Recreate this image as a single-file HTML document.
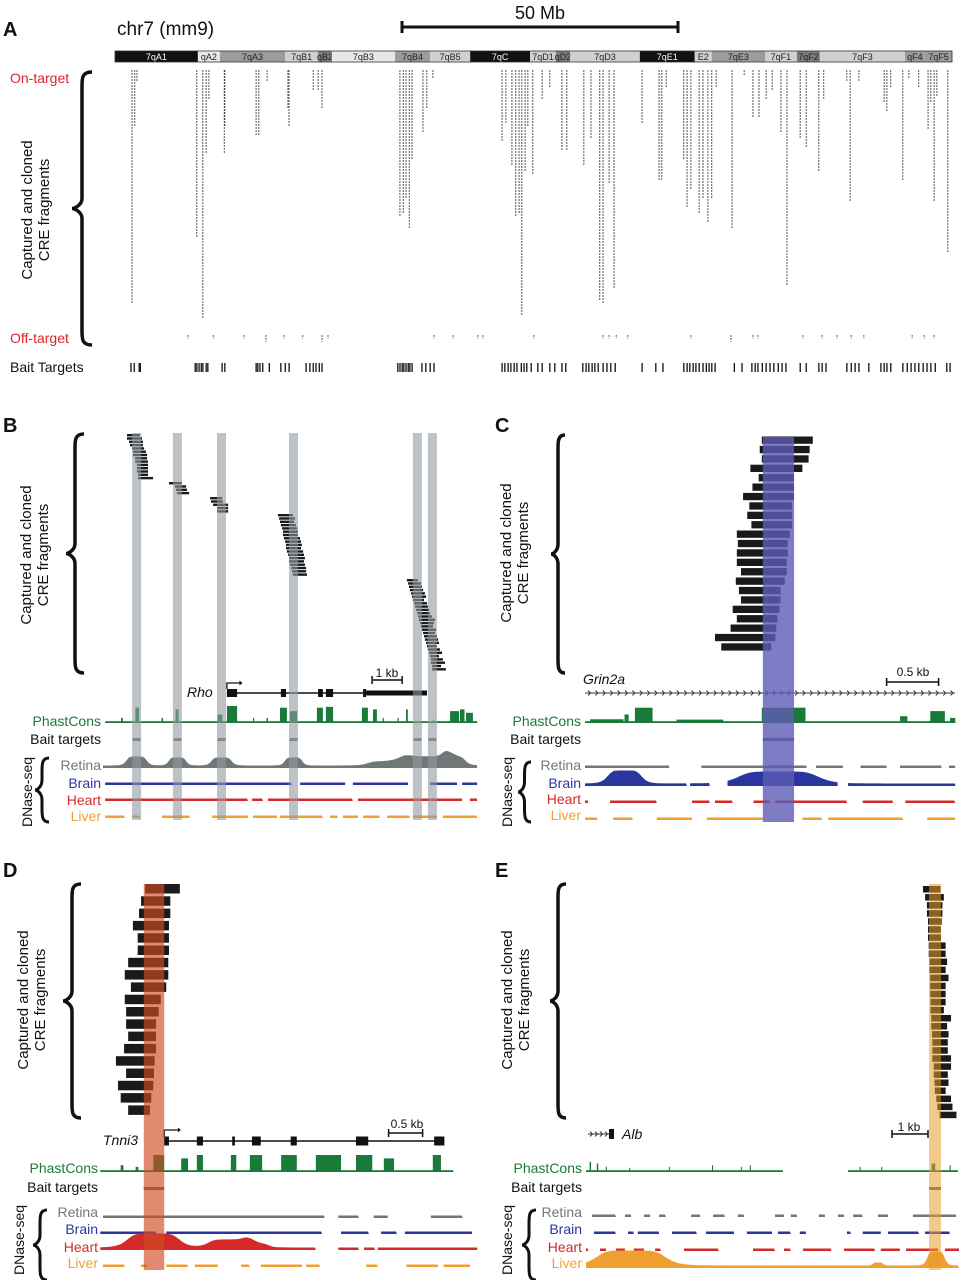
<!DOCTYPE html>
<html><head><meta charset="utf-8">
<style>
html,body{margin:0;padding:0;background:#fff;}
svg{display:block;font-family:"Liberation Sans",sans-serif;}
</style></head>
<body>
<svg id="fig" xmlns="http://www.w3.org/2000/svg" width="979" height="1280" viewBox="0 0 979 1280">
<rect x="0" y="0" width="979" height="1280" fill="#fff"/>
<g id="marks"></g>
<g id="overlays"></g>
<g id="labels" fill="#111">
  <text x="3" y="36" font-size="20" font-weight="bold">A</text>
  <text x="117" y="35" font-size="19">chr7 (mm9)</text>
  <text x="540" y="19" font-size="18" text-anchor="middle">50 Mb</text>
  <text x="10" y="83" font-size="14" fill="#d9262b">On-target</text>
  <text x="10" y="343" font-size="14" fill="#d9262b">Off-target</text>
  <text x="10" y="372" font-size="14">Bait Targets</text>
  <text transform="translate(32,210) rotate(-90)" font-size="15" text-anchor="middle">Captured and cloned</text>
  <text transform="translate(49,210) rotate(-90)" font-size="15" text-anchor="middle">CRE fragments</text>

  <text x="3" y="432" font-size="20" font-weight="bold">B</text>
  <text transform="translate(31,555) rotate(-90)" font-size="15" text-anchor="middle">Captured and cloned</text>
  <text transform="translate(48,555) rotate(-90)" font-size="15" text-anchor="middle">CRE fragments</text>
  <text x="187" y="697" font-size="14" font-style="italic">Rho</text>
  <text x="387" y="677" font-size="12" text-anchor="middle">1 kb</text>
  <text x="101" y="726" font-size="14" fill="#1a7a3a" text-anchor="end">PhastCons</text>
  <text x="101" y="744" font-size="14" text-anchor="end">Bait targets</text>
  <text x="101" y="770" font-size="14" fill="#707a7a" text-anchor="end">Retina</text>
  <text x="101" y="788" font-size="14" fill="#2a35a0" text-anchor="end">Brain</text>
  <text x="101" y="805" font-size="14" fill="#d42a2a" text-anchor="end">Heart</text>
  <text x="101" y="821" font-size="14" fill="#f0a030" text-anchor="end">Liver</text>
  <text transform="translate(32,792) rotate(-90)" font-size="14" text-anchor="middle">DNase-seq</text>

  <text x="495" y="432" font-size="20" font-weight="bold">C</text>
  <text transform="translate(511,553) rotate(-90)" font-size="15" text-anchor="middle">Captured and cloned</text>
  <text transform="translate(528,553) rotate(-90)" font-size="15" text-anchor="middle">CRE fragments</text>
  <text x="583" y="684" font-size="14" font-style="italic">Grin2a</text>
  <text x="913" y="676" font-size="12" text-anchor="middle">0.5 kb</text>
  <text x="581" y="726" font-size="14" fill="#1a7a3a" text-anchor="end">PhastCons</text>
  <text x="581" y="744" font-size="14" text-anchor="end">Bait targets</text>
  <text x="581" y="770" font-size="14" fill="#707a7a" text-anchor="end">Retina</text>
  <text x="581" y="788" font-size="14" fill="#2a35a0" text-anchor="end">Brain</text>
  <text x="581" y="804" font-size="14" fill="#d42a2a" text-anchor="end">Heart</text>
  <text x="581" y="820" font-size="14" fill="#f0a030" text-anchor="end">Liver</text>
  <text transform="translate(512,792) rotate(-90)" font-size="14" text-anchor="middle">DNase-seq</text>

  <text x="3" y="877" font-size="20" font-weight="bold">D</text>
  <text transform="translate(28,1000) rotate(-90)" font-size="15" text-anchor="middle">Captured and cloned</text>
  <text transform="translate(45,1000) rotate(-90)" font-size="15" text-anchor="middle">CRE fragments</text>
  <text x="103" y="1145" font-size="14" font-style="italic">Tnni3</text>
  <text x="407" y="1128" font-size="12" text-anchor="middle">0.5 kb</text>
  <text x="98" y="1173" font-size="14" fill="#1a7a3a" text-anchor="end">PhastCons</text>
  <text x="98" y="1192" font-size="14" text-anchor="end">Bait targets</text>
  <text x="98" y="1217" font-size="14" fill="#707a7a" text-anchor="end">Retina</text>
  <text x="98" y="1234" font-size="14" fill="#2a35a0" text-anchor="end">Brain</text>
  <text x="98" y="1252" font-size="14" fill="#d42a2a" text-anchor="end">Heart</text>
  <text x="98" y="1268" font-size="14" fill="#f0a030" text-anchor="end">Liver</text>
  <text transform="translate(24,1240) rotate(-90)" font-size="14" text-anchor="middle">DNase-seq</text>

  <text x="495" y="877" font-size="20" font-weight="bold">E</text>
  <text transform="translate(512,1000) rotate(-90)" font-size="15" text-anchor="middle">Captured and cloned</text>
  <text transform="translate(529,1000) rotate(-90)" font-size="15" text-anchor="middle">CRE fragments</text>
  <text x="622" y="1139" font-size="14" font-style="italic">Alb</text>
  <text x="909" y="1131" font-size="12" text-anchor="middle">1 kb</text>
  <text x="582" y="1173" font-size="14" fill="#1a7a3a" text-anchor="end">PhastCons</text>
  <text x="582" y="1192" font-size="14" text-anchor="end">Bait targets</text>
  <text x="582" y="1217" font-size="14" fill="#707a7a" text-anchor="end">Retina</text>
  <text x="582" y="1234" font-size="14" fill="#2a35a0" text-anchor="end">Brain</text>
  <text x="582" y="1252" font-size="14" fill="#d42a2a" text-anchor="end">Heart</text>
  <text x="582" y="1268" font-size="14" fill="#f0a030" text-anchor="end">Liver</text>
  <text transform="translate(512,1240) rotate(-90)" font-size="14" text-anchor="middle">DNase-seq</text>
</g>
</svg>
<script>
// ---------- Panel A data (Mb on chr7) ----------
const bandNames = ["7qA1","qA2","7qA3","7qB1","qB2","7qB3","7qB4","7qB5","7qC","7qD1","qD2","7qD3","7qE1","E2","7qE3","7qF1","7qF2","7qF3","qF4","7qF5"];
const bandStarts = [0,15.1,19.1,31.0,37.0,39.5,51.0,57.4,64.7,75.6,80.3,82.9,95.6,105.6,108.7,118.4,124.2,128.4,143.9,147.5];
const bandEnds = [15.1,19.1,31.0,37.0,39.5,51.0,57.4,64.7,75.6,80.3,82.9,95.6,105.6,108.7,118.4,124.2,128.4,143.9,147.5,152.5];
const bandStain = [4,0,2,1,3,0,2,1,4,1,3,1,4,1,2,1,3,1,2,2];
const onTargetPos = [3.1,3.6,4.0,14.9,16.0,16.6,17.1,19.9,20.0,25.7,26.2,27.7,31.5,31.7,36.1,37.0,37.7,51.9,52.5,53.0,53.6,54.1,56.1,56.8,57.9,70.5,71.2,72.3,73.0,73.6,74.1,74.7,75.2,76.1,77.8,79.2,81.4,82.3,85.4,86.7,88.3,88.9,90.0,90.9,96.0,99.1,99.6,100.4,103.6,104.2,104.9,106.4,107.1,108.0,108.7,109.5,112.4,114.6,116.2,117.3,118.6,119.7,121.3,122.4,124.8,125.9,128.2,129.1,133.3,133.9,135.5,140.1,140.6,141.3,143.5,144.6,146.4,148.1,148.6,149.2,149.7,151.7];
const onTargetCount = [78,19,4,56,83,28,10,28,19,22,22,4,13,19,7,7,13,49,48,43,53,30,21,13,3,24,18,32,49,48,82,34,19,35,10,6,27,27,32,23,77,78,38,73,18,37,37,6,30,46,40,48,43,51,43,6,53,2,16,16,10,7,21,72,23,26,34,10,4,44,4,11,14,6,37,3,6,20,11,44,9,61];
const offTargetPos = [13.3,17.9,23.5,27.5,30.8,34.2,37.7,38.8,58.1,61.6,66.1,67.0,76.3,88.9,90.0,91.3,93.4,104.9,112.2,116.2,117.1,125.3,128.8,131.5,134.1,136.4,145.2,147.4,149.2];
const offTargetCount = [1,1,1,2,1,1,2,1,1,1,1,1,1,1,1,1,1,1,2,1,1,1,1,1,1,1,1,1,1];
const baitPosA = [2.9,3.5,4.4,4.6,14.6,14.9,15.3,15.7,16.0,16.6,16.9,19.5,20.0,25.7,26.0,26.4,26.9,28.1,30.2,31.0,31.7,34.8,35.5,36.1,36.6,37.2,37.7,51.5,51.9,52.3,52.6,53.0,53.4,53.7,54.1,55.9,56.6,57.4,58.1,70.5,71.0,71.6,72.1,72.7,73.2,74.0,74.5,75.0,75.8,77.0,77.8,79.2,80.1,81.4,82.1,85.2,85.8,86.3,86.9,87.4,88.0,88.9,89.6,90.3,91.1,96.0,98.5,99.8,103.6,104.2,104.7,105.3,105.8,106.4,107.1,107.7,108.2,108.7,109.3,112.8,114.2,116.0,116.6,117.1,117.9,118.6,119.3,120.0,120.8,121.5,122.2,124.8,125.9,128.2,128.8,129.5,133.3,134.1,134.8,135.5,137.3,139.5,140.1,140.6,141.3,143.5,144.3,145.0,145.7,146.4,147.2,147.9,148.6,149.4,151.5,152.1];

// ---------- Panel B data (kb) ----------
const fragStartB = [0.80,0.80,0.87,0.90,0.97,1.0,1.0,1.07,1.07,1.13,1.13,1.13,1.17,1.17, 2.2,2.4,2.43,2.47, 3.57,3.6,3.67,3.8,3.8, 5.83,5.87,5.9,5.93,5.97,6.0,6.0,6.03,6.07,6.1,6.1,6.13,6.17,6.2,6.2,6.23,6.27,6.3,6.33, 10.13,10.17,10.2,10.23,10.27,10.3,10.33,10.37,10.4,10.43,10.47,10.5,10.53,10.57,10.6,10.63,10.67,10.7,10.73,10.77,10.8,10.83,10.87,10.9,10.93,10.93,10.97,10.97];
const fragEndB = [1.23,1.30,1.33,1.33,1.37,1.43,1.47,1.47,1.50,1.50,1.50,1.50,1.50,1.67, 2.63,2.77,2.8,2.87, 3.97,4.0,4.17,4.17,4.17, 6.33,6.4,6.37,6.43,6.47,6.5,6.5,6.57,6.6,6.63,6.6,6.67,6.7,6.73,6.7,6.73,6.77,6.77,6.8, 10.5,10.6,10.63,10.67,10.73,10.77,10.7,10.8,10.83,10.87,10.9,10.97,11.07,11.03,11.0,11.1,11.07,11.13,11.17,11.2,11.13,11.23,11.3,11.2,11.33,11.4,11.27,11.43];
const fragGroupB = [0,0,0,0,0,0,0,0,0,0,0,0,0,0, 1,1,1,1, 2,2,2,2,2, 3,3,3,3,3,3,3,3,3,3,3,3,3,3,3,3,3,3,3, 4,4,4,4,4,4,4,4,4,4,4,4,4,4,4,4,4,4,4,4,4,4,4,4,4,4,4,4];
const baitB = [1.12,2.48,3.95,6.35,10.48,10.98];
const phastStartB = [0.6,1.08,1.95,2.42,3.82,4.13,5.0,5.45,5.9,6.23,7.13,7.43,8.63,9.0,9.32,9.82,10.1,11.0,11.57,11.9,12.1];
const phastEndB = [0.66,1.2,2.0,2.52,3.98,4.47,5.04,5.5,6.13,6.47,7.33,7.67,8.83,9.13,9.36,9.86,10.16,11.04,11.87,12.05,12.33];
const phastHB = [0.3,0.9,0.3,0.8,0.5,1.0,0.3,0.3,0.9,0.7,0.9,0.95,0.9,0.8,0.3,0.3,0.8,0.2,0.7,0.8,0.6];
const retSegB = [[0,12.47]];
const retPeakC_B = [1.12,2.48,3.95,6.35,9.5,10.8,11.7];
const retPeakW_B = [0.35,0.3,0.35,0.3,0.7,0.9,0.4];
const retPeakH_B = [9,8,8,8,4,9,7];
const brainSegB = [[0.07,6.3],[6.57,8.07],[8.33,10.17],[10.9,11.8],[11.97,12.47]];
const heartSegB = [[0.07,4.83],[4.97,5.33],[5.5,8.33],[8.5,11.97],[12.23,12.47]];
const liverSegB = [[0.07,0.73],[0.97,1.23],[1.97,2.9],[3.63,4.83],[5.0,5.8],[5.9,7.33],[7.57,7.83],[8.0,8.5],[8.67,9.23],[9.47,10.23],[10.33,11.13],[11.33,12.47]];

// ---------- Panel C data (kb) ----------
const fragStartC = [1.70,1.68,1.70,1.59,1.67,1.61,1.52,1.58,1.56,1.60,1.46,1.47,1.46,1.46,1.50,1.45,1.48,1.50,1.42,1.46,1.40,1.25,1.31];
const fragEndC = [2.19,2.16,2.15,2.09,2.01,2.01,2.01,1.99,1.99,1.99,1.97,1.95,1.95,1.94,1.94,1.92,1.88,1.88,1.87,1.85,1.84,1.83,1.79];
const phastStartC = [0.05,0.38,0.48,0.88,1.70,3.03,3.32,3.51];
const phastEndC = [0.37,0.42,0.65,1.33,2.12,3.1,3.46,3.56];
const phastHC = [0.22,0.5,0.9,0.2,0.9,0.4,0.7,0.3];
const retSegC = [[0,0.81],[1.12,2.13],[2.22,2.48],[2.65,2.9],[3.03,3.43],[3.5,3.56]];
const brainSegC = [[0,0.98],[1.01,1.2],[1.37,2.43],[2.53,3.56]];
const brainPeakC = [0.38,1.86];
const brainPeakW = [0.17,0.4];
const brainPeakH = [13,12];
const heartSegC = [[0,0.03],[0.24,0.69],[1.03,1.2],[1.25,1.42],[1.62,1.78],[1.83,2.52],[2.67,2.96],[3.08,3.56]];
const liverSegC = [[0,0.12],[0.27,0.46],[0.69,1.03],[1.17,1.71],[2.09,2.28],[2.34,3.06],[3.29,3.56]];

// ---------- Panel D data (kb) ----------
const fragStartD = [0.62,0.56,0.53,0.44,0.51,0.51,0.37,0.32,0.41,0.32,0.34,0.34,0.37,0.31,0.19,0.34,0.22,0.26,0.37];
const fragEndD = [1.13,0.99,0.99,0.97,0.97,0.97,0.96,0.96,0.93,0.85,0.82,0.78,0.78,0.78,0.76,0.75,0.74,0.71,0.69];
const phastStartD = [0.26,0.48,0.74,1.15,1.38,1.88,2.16,2.62,3.13,3.72,4.13,4.85];
const phastEndD = [0.3,0.52,0.9,1.25,1.47,1.96,2.34,2.85,3.5,3.96,4.28,4.97];
const phastHD = [0.4,0.3,1.0,0.8,1.0,1.0,1.0,1.0,1.0,1.0,0.8,1.0];
const retSegD = [[0,3.26],[3.46,3.76],[3.98,4.19],[4.82,5.29]];
const brainSegD = [[-0.04,0.78],[0.93,3.22],[3.5,3.91],[4.09,4.32],[4.44,5.43]];
const heartSegD = [[-0.04,3.13],[3.46,3.76],[3.84,4.0],[4.04,5.51]];
const heartPeakCD = [0.74,1.88,2.25];
const heartPeakWD = [0.4,0.35,0.2];
const heartPeakHD = [14,8,3];
const liverSegD = [[0,0.32],[0.56,0.65],[0.93,1.25],[1.35,1.69],[2.03,2.16],[2.32,2.93],[2.99,3.19],[3.87,4.04],[4.46,4.93],[5.01,5.4]];

// ---------- Panel E data (kb) ----------
const fragStartE = [9.36,9.42,9.47,9.47,9.50,9.50,9.50,9.52,9.52,9.54,9.54,9.56,9.56,9.56,9.57,9.57,9.59,9.59,9.61,9.62,9.62,9.62,9.66,9.66,9.68,9.69,9.73,9.76,9.82];
const fragEndE = [9.85,9.94,9.90,9.90,9.88,9.86,9.86,9.99,9.99,10.03,9.99,10.07,9.99,9.99,9.99,9.94,10.14,10.03,10.07,10.05,10.05,10.14,10.14,10.05,10.07,9.99,10.14,10.18,10.29];
const phastSegE = [[0,5.47],[7.28,10.33]];
const phastStartE = [0.1,0.3,0.55,1.2,2.3,3.5,4.3,4.55,7.6,8.2,9.6,10.1];
const phastEndE = [0.14,0.34,0.58,1.23,2.33,3.53,4.33,4.58,7.63,8.23,9.7,10.13];
const phastHE = [0.6,0.5,0.3,0.25,0.3,0.4,0.3,0.4,0.3,0.3,0.5,0.4];
const retSegE = [[0.17,0.83],[1.08,1.25],[1.61,1.78],[2.03,2.22],[2.92,3.17],[3.53,3.86],[4.22,4.39],[5.25,5.5],[5.69,5.86],[6.47,6.64],[7.0,7.17],[7.42,7.69],[8.11,8.39],[9.08,10.28]];
const brainSegE = [[0.22,0.83],[1.17,1.33],[1.44,2.03],[2.39,3.08],[3.33,4.11],[4.47,5.17],[5.33,5.69],[5.94,6.11],[7.25,7.36],[7.69,8.19],[8.39,9.25],[9.42,10.11]];
const heartSegE = [[0,0.06],[0.39,0.56],[0.83,1.08],[1.33,1.61],[1.92,2.08],[2.72,3.69],[4.64,5.25],[5.5,5.69],[6.03,6.81],[7.17,8.03],[8.19,8.72],[8.89,9.78],[9.97,10.36]];
const liverSegE = [[0,10.36]];
const liverPeakCE = [1.25,8.11,9.72];
const liverPeakWE = [1.0,0.15,0.25];
const liverPeakHE = [15,3,14];

// ---------- scales ----------
const xA = mb => 115 + mb * 5.49;
const xB = kb => 103 + kb * 30;
const xC = kb => 585 + kb * 104;
const xD = kb => 103 + kb * 68;
const xE = kb => 586 + kb * 36;

const NS = "http://www.w3.org/2000/svg";
const marks = document.getElementById('marks');
const overlays = document.getElementById('overlays');
function mk(parent, tag, attrs, name) {
  const e = document.createElementNS(NS, tag);
  for (const k in attrs) e.setAttribute(k, attrs[k]);
  
  
  parent.appendChild(e);
  return e;
}

// ---------- Panel A ----------
mk(marks,'path',{d:'M402,21 V33 M402,27 H678 M678,21 V33',stroke:'#111','stroke-width':3,fill:'none'},'scale-bar-50mb');
const stainFill = ['#e8e8e8','#d0d0d0','#9c9c9c','#7c7c7c','#111'];
bandNames.forEach((n,i)=>{
  const x0 = xA(bandStarts[i]), x1 = xA(bandEnds[i]);
  mk(marks,'rect',{x:x0,y:51,width:x1-x0,height:11,fill:stainFill[bandStain[i]]},'ideogram-band-'+n.toLowerCase());
  const t = mk(marks,'text',{x:(x0+x1)/2,y:60,'font-size':9,'text-anchor':'middle',fill:bandStain[i]===4?'#fff':'#222'},'band-label-'+n.toLowerCase());
  t.textContent = n;
});
mk(marks,'rect',{x:115,y:51,width:837,height:11,fill:'none',stroke:'#333','stroke-width':0.8},'ideogram-outline');
onTargetPos.forEach((p,i)=>{
  mk(marks,'line',{x1:xA(p),x2:xA(p),y1:70,y2:70+onTargetCount[i]*3,stroke:'#444','stroke-width':0.9,'stroke-dasharray':'2 1'},'on-target-column');
});
offTargetPos.forEach((p,i)=>{
  mk(marks,'line',{x1:xA(p),x2:xA(p),y1:335,y2:335+offTargetCount[i]*3.5,stroke:'#444','stroke-width':0.9,'stroke-dasharray':'2 1'},'off-target-mark');
});
baitPosA.forEach(p=>{
  mk(marks,'rect',{x:xA(p)-0.6,y:363,width:1.3,height:9,fill:'#111'},'bait-target-tick');
});

function brace(parent,x,y1,y2,w,sw,name){
  const m=(y1+y2)/2, h=w/2;
  const d=`M${x+w},${y1} C${x+h},${y1} ${x+h},${y1+6} ${x+h},${y1+14} L${x+h},${m-10} C${x+h},${m-3} ${x+2},${m} ${x},${m} C${x+2},${m} ${x+h},${m+3} ${x+h},${m+10} L${x+h},${y2-14} C${x+h},${y2-6} ${x+h},${y2} ${x+w},${y2}`;
  mk(parent,'path',{d:d,fill:'none',stroke:'#111','stroke-width':sw},name);
}
brace(marks,72,72,345,20,3.5,'brace-a');
brace(marks,66,434,673,18,3.5,'brace-b');
brace(marks,35,758,822,14,3,'brace-dnase-b');
brace(marks,551,435,673,14,3.5,'brace-c');
brace(marks,518,762,822,13,3,'brace-dnase-c');
brace(marks,63,884,1118,18,3.5,'brace-d');
brace(marks,33,1210,1280,14,3,'brace-dnase-d');
brace(marks,550,884,1118,16,3.5,'brace-e');
brace(marks,522,1210,1280,14,3,'brace-dnase-e');

// ---------- generic track helpers ----------
function phast(xs, base, starts, ends, hs, ranges, name){
  ranges.forEach(r=>{
    mk(marks,'rect',{x:xs(r[0]),y:base-1.8,width:xs(r[1])-xs(r[0]),height:1.8,fill:'#1a7a3a'},name+'-baseline');
  });
  starts.forEach((s,i)=>{
    const h = hs[i]*17;
    mk(marks,'rect',{x:xs(s),y:base-h,width:Math.max(1,xs(ends[i])-xs(s)),height:h,fill:'#1a7a3a'},name+'-peak');
  });
}
function signal(xs, base, segs, pc, pw, ph, color, name){
  segs.forEach(sg=>{
    const a=xs(sg[0]), b=xs(sg[1]);
    let pts=[];
    for(let x=a;x<=b+0.01;x+=1){
      let h=2.5;
      for(let k=0;k<pc.length;k++){
        const cx=xs(pc[k]), w=Math.abs(xs(pc[k]+pw[k])-cx);
        const d=(x-cx)/w;
        h+=ph[k]/(1+Math.pow(d,6));
      }
      pts.push(x.toFixed(1)+','+(base-h).toFixed(1));
    }
    pts.push(b.toFixed(1)+','+base, a.toFixed(1)+','+base);
    mk(marks,'polygon',{points:pts.join(' '),fill:color},name);
  });
}
function frags(xs, y0, step, h, starts, ends, name){
  starts.forEach((s,i)=>{
    mk(marks,'rect',{x:xs(s),y:y0+i*step,width:xs(ends[i])-xs(s),height:h,fill:'#1a1a1a'},name);
  });
}

// ---------- Panel B ----------
const groupTopB = [434,482,497,514,579];
const groupIdx = [0,0,0,0,0];
fragStartB.forEach((s,i)=>{
  const g = fragGroupB[i];
  const y = groupTopB[g] + groupIdx[g]*3.3;
  groupIdx[g]++;
  mk(marks,'rect',{x:xB(s),y:y,width:xB(fragEndB[i])-xB(s),height:2.4,fill:'#1a1a1a'},'fragment-b');
});
mk(marks,'path',{d:`M${xB(8.97)},676 V684 M${xB(8.97)},680 H${xB(9.97)} M${xB(9.97)},676 V684`,stroke:'#111','stroke-width':1.5,fill:'none'},'scale-bar-b');
mk(marks,'line',{x1:xB(4.13),x2:xB(10.8),y1:693,y2:693,stroke:'#111','stroke-width':1.6},'rho-intron-line');
[[4.13,4.47,8],[5.93,6.1,8],[7.17,7.33,8],[7.43,7.67,8],[8.67,8.77,8],[8.77,10.8,5]].forEach(e=>{
  mk(marks,'rect',{x:xB(e[0]),y:693-e[2]/2,width:xB(e[1])-xB(e[0]),height:e[2],fill:'#111'},'rho-exon');
});
mk(marks,'path',{d:`M${xB(4.13)},689 V683 H${xB(4.55)}`,stroke:'#111','stroke-width':1.3,fill:'none'},'rho-tss-arrow');
mk(marks,'path',{d:`M${xB(4.55)},680.5 l3,2.5 l-3,2.5z`,fill:'#111'},'rho-tss-arrowhead');
phast(xB,723,phastStartB,phastEndB,phastHB,[[0.07,12.47]],'phastcons-b');
baitB.forEach(c=>{ mk(marks,'rect',{x:xB(c)-4,y:738,width:8,height:3,fill:'#777'},'bait-target-b'); });
signal(xB,768,retSegB,retPeakC_B,retPeakW_B,retPeakH_B,'#6f7777','retina-track-b');
signal(xB,785,brainSegB,[],[],[],'#2a35a0','brain-track-b');
signal(xB,801,heartSegB,[],[],[],'#d42a2a','heart-track-b');
signal(xB,818,liverSegB,[],[],[],'#f0a030','liver-track-b');
baitB.forEach(c=>{
  mk(overlays,'rect',{x:xB(c)-4.5,y:433,width:9,height:387,fill:'rgb(143,153,160)','fill-opacity':0.6},'highlight-column-b');
});

// ---------- Panel C ----------
frags(xC,436.5,9.4,7.3,fragStartC,fragEndC,'fragment-c');
mk(marks,'path',{d:`M${xC(2.90)},678 V686 M${xC(2.90)},682 H${xC(3.40)} M${xC(3.40)},678 V686`,stroke:'#111','stroke-width':1.5,fill:'none'},'scale-bar-c');
mk(marks,'line',{x1:585,x2:955,y1:693,y2:693,stroke:'#333','stroke-width':1},'grin2a-intron-line');
for(let x=588;x<955;x+=7.4){
  mk(marks,'path',{d:`M${x},690.5 l2.5,2.5 l-2.5,2.5`,stroke:'#333','stroke-width':0.9,fill:'none'},'grin2a-strand-chevron');
}
phast(xC,723,phastStartC,phastEndC,phastHC,[[0,3.56]],'phastcons-c');
mk(marks,'rect',{x:xC(1.71),y:738,width:xC(2.01)-xC(1.71),height:3,fill:'#666'},'bait-target-c');
signal(xC,768,retSegC,[],[],[],'#6f7777','retina-track-c');
signal(xC,786,brainSegC,brainPeakC,brainPeakW,brainPeakH,'#2a35a0','brain-track-c');
signal(xC,803,heartSegC,[],[],[],'#d42a2a','heart-track-c');
signal(xC,820,liverSegC,[],[],[],'#f0a030','liver-track-c');
mk(overlays,'rect',{x:xC(1.71),y:437,width:xC(2.01)-xC(1.71),height:385,fill:'rgb(94,91,181)','fill-opacity':0.8},'highlight-column-c');

// ---------- Panel D ----------
frags(xD,884,12.3,9.5,fragStartD,fragEndD,'fragment-d');
mk(marks,'path',{d:`M${xD(4.2)},1129 V1137 M${xD(4.2)},1133 H${xD(4.7)} M${xD(4.7)},1129 V1137`,stroke:'#111','stroke-width':1.5,fill:'none'},'scale-bar-d');
mk(marks,'line',{x1:xD(0.9),x2:xD(5.02),y1:1141,y2:1141,stroke:'#111','stroke-width':1.6},'tnni3-intron-line');
[[0.9,0.97,9],[1.38,1.47,9],[1.9,1.94,9],[2.19,2.32,9],[2.76,2.85,9],[3.72,3.9,9],[4.87,5.02,9]].forEach(e=>{
  mk(marks,'rect',{x:xD(e[0]),y:1141-e[2]/2,width:xD(e[1])-xD(e[0]),height:e[2],fill:'#111'},'tnni3-exon');
});
mk(marks,'path',{d:`M${xD(0.9)},1137 V1130 H${xD(1.1)}`,stroke:'#111','stroke-width':1.3,fill:'none'},'tnni3-tss-arrow');
mk(marks,'path',{d:`M${xD(1.1)},1127.5 l3,2.5 l-3,2.5z`,fill:'#111'},'tnni3-tss-arrowhead');
phast(xD,1172,phastStartD,phastEndD,phastHD,[[-0.04,5.15]],'phastcons-d');
mk(marks,'rect',{x:xD(0.6),y:1187,width:xD(0.9)-xD(0.6),height:3,fill:'#666'},'bait-target-d');
signal(xD,1218,retSegD,[],[],[],'#6f7777','retina-track-d');
signal(xD,1234,brainSegD,[],[],[],'#2a35a0','brain-track-d');
signal(xD,1250,heartSegD,heartPeakCD,heartPeakWD,heartPeakHD,'#d42a2a','heart-track-d');
signal(xD,1267,liverSegD,[],[],[],'#f0a030','liver-track-d');
mk(overlays,'rect',{x:xD(0.6),y:884,width:xD(0.9)-xD(0.6),height:386,fill:'rgb(208,75,35)','fill-opacity':0.65},'highlight-column-d');

// ---------- Panel E ----------
frags(xE,886,8.06,6.5,fragStartE,fragEndE,'fragment-e');
mk(marks,'path',{d:`M${xE(8.5)},1130 V1138 M${xE(8.5)},1134 H${xE(9.5)} M${xE(9.5)},1130 V1138`,stroke:'#111','stroke-width':1.5,fill:'none'},'scale-bar-e');
mk(marks,'line',{x1:588,x2:609,y1:1134,y2:1134,stroke:'#333','stroke-width':1},'alb-intron-line');
for(let x=590;x<608;x+=5){
  mk(marks,'path',{d:`M${x},1131.5 l2.5,2.5 l-2.5,2.5`,stroke:'#333','stroke-width':0.9,fill:'none'},'alb-strand-chevron');
}
mk(marks,'rect',{x:609,y:1129,width:5,height:10,fill:'#111'},'alb-exon');
phast(xE,1172,phastStartE,phastEndE,phastHE,phastSegE,'phastcons-e');
mk(marks,'rect',{x:xE(9.53),y:1187,width:xE(9.86)-xE(9.53),height:3,fill:'#666'},'bait-target-e');
signal(xE,1217,retSegE,[],[],[],'#6f7777','retina-track-e');
signal(xE,1234,brainSegE,[],[],[],'#2a35a0','brain-track-e');
signal(xE,1251,heartSegE,[],[],[],'#d42a2a','heart-track-e');
signal(xE,1268,liverSegE,liverPeakCE,liverPeakWE,liverPeakHE,'#f0a030','liver-track-e');
mk(overlays,'rect',{x:xE(9.53),y:884,width:xE(9.86)-xE(9.53),height:386,fill:'rgb(233,156,42)','fill-opacity':0.55},'highlight-column-e');
</script>
</body></html>
